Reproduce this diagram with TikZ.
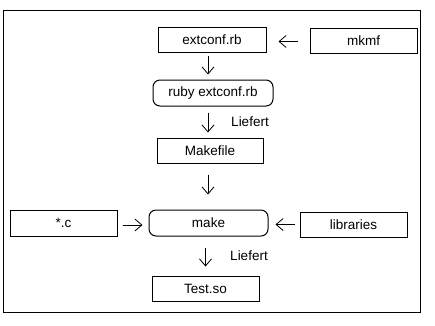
\documentclass[tikz,border=0pt]{standalone}
\usepackage{fontspec}
\setmainfont{Liberation Sans}
\usepackage{tikz}
\usetikzlibrary{arrows.meta,positioning}

\begin{document}
\begin{tikzpicture}[
  x=1pt, y=-1pt,
  every node/.style={font=\fontsize{13.5}{15}\selectfont},
  filebox/.style={draw, line width=1pt, inner sep=0pt, minimum width=107pt, minimum height=25pt},
  cmdbox/.style={draw, line width=1pt, rounded corners=7pt, inner sep=0pt, minimum width=119pt, minimum height=26pt},
  flow/.style={line width=0.8pt, -{Straight Barb[length=7pt,width=12pt]}},
]

% ---- Page and frame ----
\useasboundingbox (0,0) rectangle (435,325);
\draw[line width=1pt] (3,10) rectangle (420,312);

% ---- Main chain ----
\node[filebox, minimum width=108pt] (extconf) at (212,39.5) {extconf.rb};
\node[filebox] (mkmf) at (363.5,40.5) {mkmf};
\node[cmdbox, minimum width=120pt] (ruby) at (213,93) {ruby extconf.rb};
\node[filebox, minimum width=106pt] (makefile) at (210,150.5) {Makefile};
\node[cmdbox] (make) at (208.5,223) {make};
\node[filebox] (testso) at (205.5,288.5) {Test.so};

% ---- Inputs of make ----
\node[filebox, minimum height=26pt] (cfiles) at (63.5,223) {*.c};
\node[filebox] (libs) at (353.5,224.5) {libraries};

% ---- Arrows ----
\draw[flow, shorten <=12pt, shorten >=12pt] ([yshift=-1pt]mkmf.west) -- ([yshift=-1pt]mkmf.west -| extconf.east);
\draw[flow, shorten <=3pt, shorten >=5pt] ([xshift=-4pt]extconf.south) -- ([xshift=-4pt]extconf.south |- ruby.north);
\draw[flow, shorten <=6pt, shorten >=5pt] ([xshift=-5pt]ruby.south) -- ([xshift=-5pt]ruby.south |- makefile.north);
\draw[flow, shorten <=11pt, shorten >=15pt] ([xshift=-2pt]makefile.south) -- ([xshift=-2pt]makefile.south |- make.north);
\draw[flow, shorten <=5pt, shorten >=6pt] ([yshift=-2pt]cfiles.east) -- ([yshift=-2pt]cfiles.east -| make.west);
\draw[flow, shorten <=5pt, shorten >=7pt] (libs.west) -- (libs.west -| make.east);
\draw[flow, shorten <=11pt, shorten >=9pt] ([xshift=-3pt]make.south) -- ([xshift=-3pt]make.south |- testso.north);

% ---- Labels ----
\node (lief1) at (250,122) {Liefert};
\node (lief2) at (249,256) {Liefert};

\end{tikzpicture}
\end{document}
